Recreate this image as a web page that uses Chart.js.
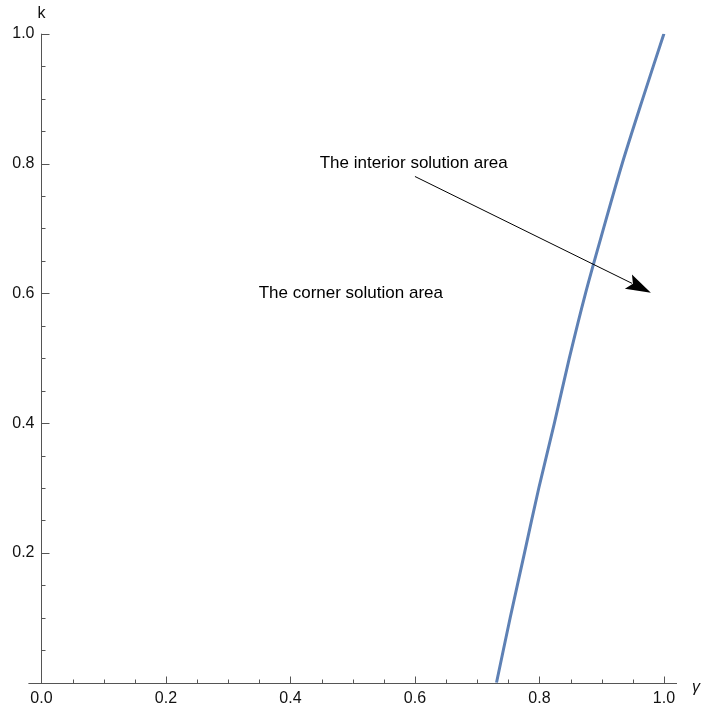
<!DOCTYPE html>
<html>
<head>
<meta charset="utf-8">
<script src="https://cdn.jsdelivr.net/npm/chart.js@4.4.0/dist/chart.umd.min.js"></script>
<style>
	html, body { margin: 0; padding: 0; background: #fff; }
</style>
</head>
<body>
<canvas id="regionChart" width="701" height="711"></canvas>
<script>
// đường biên k(γ) giữa hai vùng nghiệm
const kValues = [0, 0.1, 0.2, 0.3, 0.4, 0.5, 0.6, 0.7, 0.8, 0.9, 1.0];
const gammaValues = [0.731, 0.753, 0.776, 0.799, 0.824, 0.848, 0.874, 0.903, 0.933, 0.966, 1.0];

// nhãn trục
const xTicks = [0, 0.2, 0.4, 0.6, 0.8, 1.0];
const yTicks = [0, 0.2, 0.4, 0.6, 0.8, 1.0];
const minorStep = 0.05;

// chú thích trong vùng vẽ (toạ độ dữ liệu)
const notes = [
	{ text: 'The interior solution area', x: 0.598, y: 0.8 },
	{ text: 'The corner solution area', x: 0.497, y: 0.6 }
];
const arrowFrom = { x: 0.600, y: 0.780 };
const arrowTo = { x: 0.979, y: 0.601 };

const FAMILY = '"Liberation Sans", Arial, sans-serif';
const TICK_FONT = '16px ' + FAMILY;
const NOTE_FONT = '17px ' + FAMILY;

const axesPlugin = {
	id: 'mmaAxes',
	beforeDatasetsDraw(chart) {
		const ctx = chart.ctx;
		const xs = chart.scales.x, ys = chart.scales.y;
		const x0 = Math.round(xs.getPixelForValue(0)) + 0.5;
		const y0 = Math.round(ys.getPixelForValue(0)) + 0.5;
		ctx.save();
		ctx.strokeStyle = '#555';
		ctx.lineWidth = 1;
		ctx.beginPath();
		// trục hoành
		ctx.moveTo(chart.chartArea.left, y0);
		ctx.lineTo(chart.chartArea.right, y0);
		// trục tung
		ctx.moveTo(x0, ys.getPixelForValue(1));
		ctx.lineTo(x0, y0);
		// vạch chia
		for (let i = 0; i <= 20; i++) {
			const v = i * minorStep;
			const major = i % 4 === 0;
			const px = Math.round(xs.getPixelForValue(v)) + 0.5;
			ctx.moveTo(px, y0);
			ctx.lineTo(px, y0 - (major ? 7 : 4));
			const py = Math.round(ys.getPixelForValue(v)) + 0.5;
			ctx.moveTo(x0, py);
			ctx.lineTo(x0 + (major ? 8 : 4), py);
		}
		ctx.stroke();

		ctx.fillStyle = '#111';
		ctx.font = TICK_FONT;
		ctx.textAlign = 'center';
		ctx.textBaseline = 'middle';
		xTicks.forEach(v => ctx.fillText(v.toFixed(1), xs.getPixelForValue(v), y0 + 15));
		ctx.textAlign = 'right';
		yTicks.forEach(v => {
			if (v === 0) return;
			ctx.fillText(v.toFixed(1), x0 - 7, ys.getPixelForValue(v));
		});
		// tên trục
		ctx.textAlign = 'center';
		ctx.fillText('k', x0, ys.getPixelForValue(1) - 20);
		ctx.font = 'italic ' + TICK_FONT;
		ctx.fillText('γ', chart.chartArea.right + 19, y0 + 4);
		ctx.restore();
	},
	afterDatasetsDraw(chart) {
		const ctx = chart.ctx;
		const xs = chart.scales.x, ys = chart.scales.y;
		ctx.save();
		ctx.fillStyle = '#000';
		ctx.font = NOTE_FONT;
		ctx.textAlign = 'center';
		ctx.textBaseline = 'middle';
		notes.forEach(n => ctx.fillText(n.text, xs.getPixelForValue(n.x), ys.getPixelForValue(n.y)));

		// mũi tên
		const ax = xs.getPixelForValue(arrowFrom.x), ay = ys.getPixelForValue(arrowFrom.y);
		const bx = xs.getPixelForValue(arrowTo.x), by = ys.getPixelForValue(arrowTo.y);
		const ang = Math.atan2(by - ay, bx - ax);
		const len = 25, half = 8;
		const baseX = bx - len * Math.cos(ang), baseY = by - len * Math.sin(ang);
		ctx.strokeStyle = '#000';
		ctx.lineWidth = 1;
		ctx.beginPath();
		ctx.moveTo(ax, ay);
		ctx.lineTo(baseX + 4 * Math.cos(ang), baseY + 4 * Math.sin(ang));
		ctx.stroke();
		ctx.beginPath();
		ctx.moveTo(bx, by);
		ctx.lineTo(baseX - half * Math.sin(ang), baseY + half * Math.cos(ang));
		ctx.lineTo(baseX + 5 * Math.cos(ang), baseY + 5 * Math.sin(ang));
		ctx.lineTo(baseX + half * Math.sin(ang), baseY - half * Math.cos(ang));
		ctx.closePath();
		ctx.fill();
		ctx.restore();
	}
};

const ctx = document.getElementById('regionChart').getContext('2d');
new Chart(ctx, {
	type: 'scatter',
	data: {
		datasets: [{
			data: gammaValues.map((g, i) => ({ x: g, y: kValues[i] })),
			showLine: true,
			borderColor: '#5e81b5',
			borderWidth: 3,
			pointRadius: 0,
			tension: 0.3
		}]
	},
	options: {
		responsive: false,
		devicePixelRatio: 1,
		animation: false,
		layout: { padding: { left: 28.4, right: 24, top: 33.7, bottom: 28.3 } },
		plugins: { legend: { display: false }, tooltip: { enabled: false } },
		scales: {
			x: { type: 'linear', min: -0.021, max: 1.021, display: false },
			y: { type: 'linear', min: 0, max: 1, display: false }
		}
	},
	plugins: [axesPlugin]
});
</script>
</body>
</html>
